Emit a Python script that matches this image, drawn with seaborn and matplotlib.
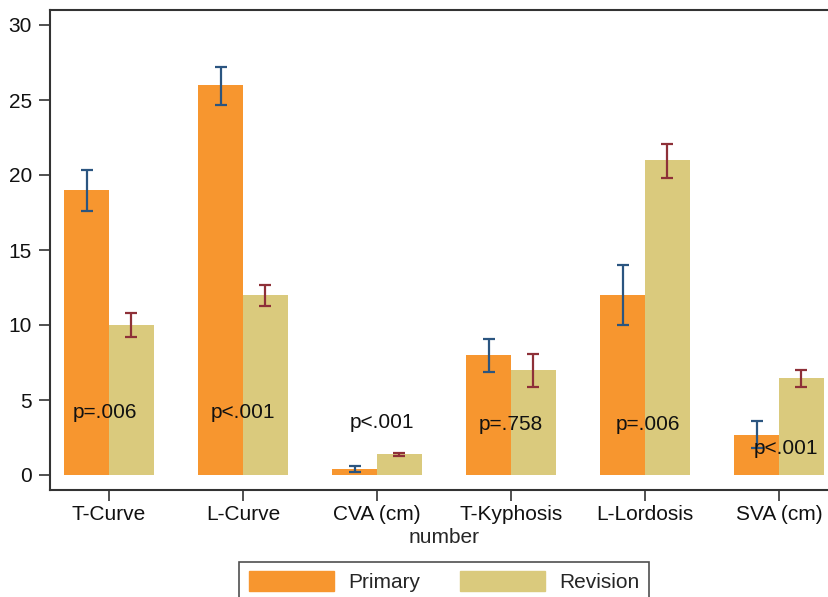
import matplotlib
matplotlib.use("Agg")
import matplotlib.pyplot as plt
import numpy as np
import pandas as pd
import seaborn as sns

# data
measures = ["T-Curve", "L-Curve", "CVA (cm)", "T-Kyphosis", "L-Lordosis", "SVA (cm)"]
groups = ["Primary", "Revision"]
primary_mean = [19.0, 26.0, 0.4, 8.0, 12.0, 2.7]
primary_low = [17.6, 24.7, 0.2, 6.9, 10.0, 1.8]
primary_high = [20.3, 27.2, 0.6, 9.1, 14.0, 3.6]
revision_mean = [10.0, 12.0, 1.4, 7.0, 21.0, 6.5]
revision_low = [9.2, 11.3, 1.3, 5.9, 19.8, 5.9]
revision_high = [10.8, 12.7, 1.5, 8.1, 22.1, 7.0]
p_labels = ["p=.006", "p<.001", "p<.001", "p=.758", "p=.006", "p<.001"]
p_label_y = [4.2, 4.15, 3.5, 3.35, 3.35, 1.75]
p_label_dx = [-0.03, 0.0, 0.04, 0.0, 0.02, 0.05]

bar_colors = ["#F7962F", "#DACA7D"]
err_colors = ["#2B5580", "#8E3038"]

df = pd.DataFrame({
    "measure": measures * 2,
    "group": [groups[0]] * len(measures) + [groups[1]] * len(measures),
    "value": primary_mean + revision_mean,
})

sns.set_theme(style="ticks")
plt.rcParams["font.family"] = ["Liberation Sans", "DejaVu Sans"]
fs = 15

fig = plt.figure(figsize=(8.29, 5.97), dpi=100)
ax = fig.add_axes([50 / 829, 107 / 597, 788 / 829, 480 / 597])

sns.barplot(
    data=df, x="measure", y="value", hue="group", order=measures,
    hue_order=groups, palette=bar_colors, width=0.67, saturation=1,
    errorbar=None, linewidth=0, ax=ax, legend=False,
)

lows = [primary_low, revision_low]
highs = [primary_high, revision_high]
bar_conts = list(ax.containers)
for k, cont in enumerate(bar_conts):
    for i, patch in enumerate(cont.patches):
        cx = patch.get_x() + patch.get_width() / 2
        ax.errorbar(
            cx, (lows[k][i] + highs[k][i]) / 2,
            yerr=(highs[k][i] - lows[k][i]) / 2,
            color=err_colors[k], capsize=4.5, elinewidth=1.6, capthick=1.6, fmt="none",
        )

for i, lab in enumerate(p_labels):
    ax.text(i + p_label_dx[i], p_label_y[i], lab, ha="center", va="center",
            fontsize=fs, color="#111111")

ax.set_xlim(-0.44, 5.44)
ax.set_ylim(-1, 31)
ax.set_yticks([0, 5, 10, 15, 20, 25, 30])
ax.set_xlabel("number", fontsize=fs, labelpad=3)
ax.set_ylabel("")
ax.tick_params(axis="both", labelsize=fs, length=8, width=1.2, color="#333333",
               labelcolor="#111111", pad=5)
ax.tick_params(axis="x", pad=3)
for side in ["left", "bottom", "top", "right"]:
    ax.spines[side].set_color("#333333")
    ax.spines[side].set_linewidth(1.5)

handles = [plt.Rectangle((0, 0), 1, 1, color=c) for c in bar_colors]
leg = fig.legend(
    handles, groups, loc="upper center", bbox_to_anchor=(444 / 829, 35 / 597),
    ncol=2, fontsize=fs, frameon=True, fancybox=False, handlelength=4.1,
    handleheight=1.05, columnspacing=1.9, handletextpad=0.67, borderpad=0.45,
    borderaxespad=0,
)
leg.get_frame().set_edgecolor("#222222")
leg.get_frame().set_linewidth(1.2)

fig.savefig("out.png", dpi=100)
